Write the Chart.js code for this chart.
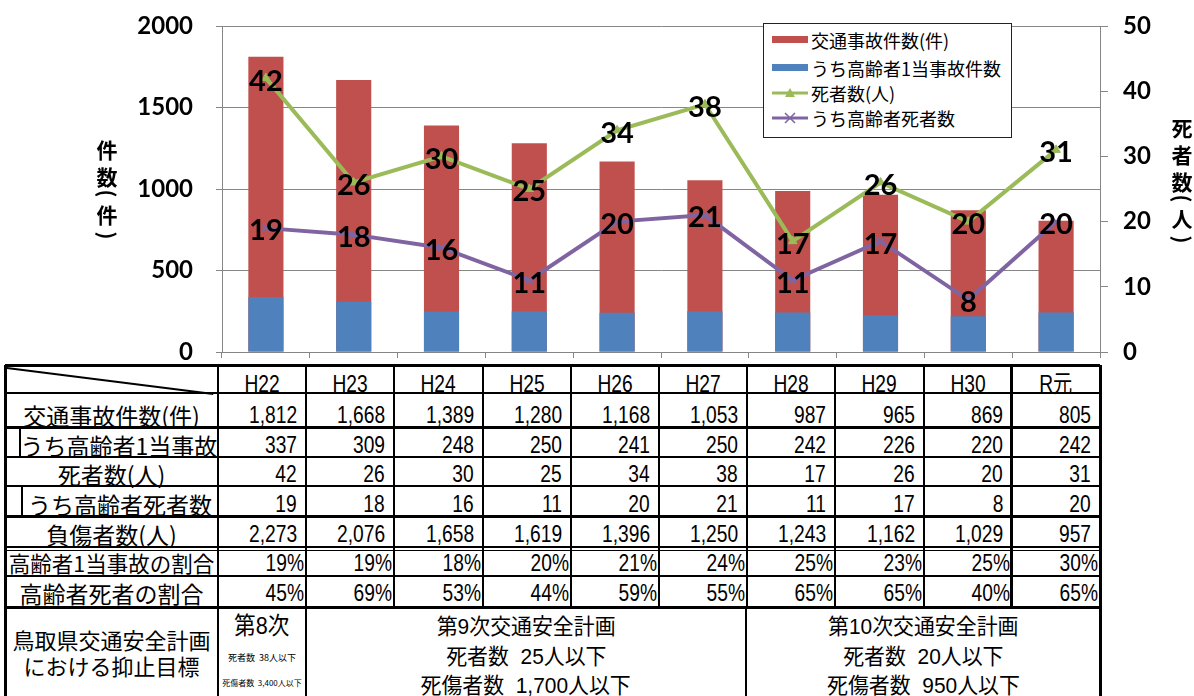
<!DOCTYPE html>
<html lang="ja">
<head>
<meta charset="utf-8">
<script src="https://cdn.jsdelivr.net/npm/chart.js@4"></script>
<style>
  html, body { margin:0; padding:0; background:#fff; width:1194px; height:696px; overflow:hidden; }
  #wrap { position:relative; width:1194px; height:696px; }
  #c { position:absolute; left:0; top:0; }
  .ln { position:absolute; background:#000; }
  .t { position:absolute; white-space:pre; line-height:1; color:#000; }
  .t span { display:inline-block; }
  .cjk { font-family:"Noto Sans CJK JP", sans-serif; }
  .num { font-family:"Liberation Sans", "Noto Sans CJK JP", sans-serif; }
  #legend { position:absolute; left:763px; top:23px; width:247px; height:113px; border:1px solid #222; background:#fff; }
  .li { position:absolute; left:8px; height:20px; display:flex; align-items:center; font-family:"Noto Sans CJK JP", sans-serif; font-size:18px; line-height:1; }
  .li svg { margin-right:3px; }
  .ax { position:absolute; font-family:"Noto Sans CJK JP", sans-serif; font-weight:700; font-size:21px; line-height:1; width:24px; text-align:center; }
</style>
</head>
<body>
<div id="wrap">
  <canvas id="c" width="1194" height="362"></canvas>
  <div id="legend"></div>
  <div id="table"></div>
</div>
<script>
// ---------------- data ----------------
const years = ['H22','H23','H24','H25','H26','H27','H28','H29','H30','R元'];
const accidents = [1812,1668,1389,1280,1168,1053,987,965,869,805];
const elderlyAccidents = [337,309,248,250,241,250,242,226,220,242];
const deaths = [42,26,30,25,34,38,17,26,20,31];
const elderlyDeaths = [19,18,16,11,20,21,11,17,8,20];
const injured = [2273,2076,1658,1619,1396,1250,1243,1162,1029,957];
const elderlyAccidentRate = ['19%','19%','18%','20%','21%','24%','25%','23%','25%','30%'];
const elderlyDeathRate = ['45%','69%','53%','44%','59%','55%','65%','65%','40%','65%'];
const leftTicks = [0,500,1000,1500,2000];
const rightTicks = [0,10,20,30,40,50];
const seriesNames = ['交通事故件数(件)','うち高齢者1当事故件数','死者数(人)','うち高齢者死者数'];
const rowLabels = ['交通事故件数(件)','うち高齢者1当事故','死者数(人)','うち高齢者死者数','負傷者数(人)','高齢者1当事故の割合','高齢者死者の割合'];
const planLabel = ['鳥取県交通安全計画','における抑止目標'];
const plan8 = ['第8次','死者数  38人以下','死傷者数  3,400人以下'];
const plan9 = ['第9次交通安全計画','死者数  25人以下','死傷者数  1,700人以下'];
const plan10 = ['第10次交通安全計画','死者数  20人以下','死傷者数  950人以下'];

const RED='#C0504D', BLUE='#4F81BD', GREEN='#9BBB59', PURPLE='#8064A2', GRID='#868686';

// ---------------- chart ----------------
const valueLabels = {
  id:'valueLabels',
  afterDatasetsDraw(chart){
    const ctx = chart.ctx;
    ctx.save();
    ctx.font = 'bold 29px Lato, "DejaVu Sans", sans-serif';
    ctx.fillStyle = '#000';
    ctx.textAlign = 'center';
    ctx.textBaseline = 'middle';
    chart.data.datasets.forEach((ds,i)=>{
      if (ds.type !== 'line') return;
      const meta = chart.getDatasetMeta(i);
      meta.data.forEach((pt,j)=>{ ctx.fillText(String(ds.data[j]), pt.x, pt.y+3); });
    });
    ctx.restore();
  }
};

const tickFont = {family:'Lato, "DejaVu Sans", sans-serif', weight:'bold', size:24};
new Chart(document.getElementById('c'), {
  data:{
    labels: years,
    datasets:[
      {type:'line', label:seriesNames[2], data:deaths, yAxisID:'y1', borderColor:GREEN, backgroundColor:GREEN,
       borderWidth:4, pointStyle:'triangle', pointRadius:5, pointBorderWidth:1, tension:0, order:2},
      {type:'line', label:seriesNames[3], data:elderlyDeaths, yAxisID:'y1', borderColor:PURPLE, backgroundColor:PURPLE,
       borderWidth:4, pointStyle:'crossRot', pointRadius:5, pointBorderWidth:2, tension:0, order:1},
      {type:'bar', label:seriesNames[1], data:elderlyAccidents, yAxisID:'y', backgroundColor:BLUE, order:3},
      {type:'bar', label:seriesNames[0], data:accidents, yAxisID:'y', backgroundColor:RED, order:4}
    ]
  },
  options:{
    responsive:false,
    animation:false,
    layout:{padding:{top:26, bottom:4, left:0, right:0}},
    datasets:{bar:{grouped:false, barPercentage:0.4, categoryPercentage:1, borderWidth:0}},
    plugins:{legend:{display:false}, tooltip:{enabled:false}},
    scales:{
      x:{offset:true, grid:{offset:true, drawOnChartArea:false, color:GRID, tickLength:6}, border:{color:GRID}, ticks:{display:false}},
      y:{position:'left', min:0, max:2000,
         afterBuildTicks(s){ s.ticks = leftTicks.map(v=>({value:v})); },
         ticks:{font:tickFont, color:'#000', padding:23, callback:v=>String(v)},
         grid:{color:GRID, tickLength:6}, border:{color:GRID},
         afterFit(s){ s.width = 222; s.paddingTop = 0; s.paddingBottom = 0; }},
      y1:{position:'right', min:0, max:50,
         afterBuildTicks(s){ s.ticks = rightTicks.map(v=>({value:v})); },
         ticks:{font:tickFont, color:'#000', padding:15, callback:v=>String(v)},
         grid:{drawOnChartArea:false, color:GRID, tickLength:8}, border:{color:GRID},
         afterFit(s){ s.width = 94; s.paddingTop = 0; s.paddingBottom = 0; }}
    }
  },
  plugins:[valueLabels]
});

// ---------------- legend ----------------
(function(){
  const lg = document.getElementById('legend');
  const ys = [6, 34, 59, 84];
  const sw = [
    `<svg width="36" height="10"><rect x="0" y="1" width="36" height="7" fill="${RED}"/></svg>`,
    `<svg width="36" height="10"><rect x="0" y="1" width="36" height="7" fill="${BLUE}"/></svg>`,
    `<svg width="36" height="12"><line x1="0" y1="6" x2="36" y2="6" stroke="${GREEN}" stroke-width="3"/><polygon points="18,1 23,10 13,10" fill="${GREEN}"/></svg>`,
    `<svg width="36" height="12"><line x1="0" y1="6" x2="36" y2="6" stroke="${PURPLE}" stroke-width="3"/><path d="M13 1 L23 11 M23 1 L13 11" stroke="${PURPLE}" stroke-width="1.5"/></svg>`
  ];
  seriesNames.forEach((n,i)=>{
    const d = document.createElement('div');
    d.className='li'; d.style.top = ys[i]+'px';
    d.innerHTML = sw[i] + '<span>'+n+'</span>';
    lg.appendChild(d);
  });
})();

// ---------------- axis titles ----------------
(function(){
  const wrap = document.getElementById('wrap');
  function col(x, items){
    items.forEach(([ch,y,rot])=>{
      const d = document.createElement('div');
      d.className='ax'; d.textContent = ch;
      d.style.left = (x-12)+'px'; d.style.top = (y-11)+'px';
      if (rot) d.style.transform = 'rotate(90deg)';
      wrap.appendChild(d);
    });
  }
  col(107, [['件',150],['数',177],['(',194,1],['件',215],[')',236,1]]);
  col(1182, [['死',128],['者',155],['数',182],['(',199,1],['人',219],[')',240,1]]);
})();

// ---------------- table ----------------
(function(){
  const tb = document.getElementById('table');
  const colX = [5, 218]; for (let i=1;i<=10;i++) colX.push(Math.round(218 + i*88.2));
  const rowY = [365, 393, 427, 457, 486, 516, 547, 576, 607, 700];
  function hl(x1,x2,y,w){ const d=document.createElement('div'); d.className='ln'; d.style.left=x1+'px'; d.style.width=(x2-x1)+'px'; d.style.top=(y-w/2)+'px'; d.style.height=w+'px'; tb.appendChild(d); }
  function vl(x,y1,y2,w){ const d=document.createElement('div'); d.className='ln'; d.style.left=(x-w/2)+'px'; d.style.width=w+'px'; d.style.top=y1+'px'; d.style.height=(y2-y1)+'px'; tb.appendChild(d); }
  function tx(x1,x2,yc,s,align,size,cls,pad,sx){
    const d=document.createElement('div'); d.className='t '+cls;
    const sp=document.createElement('span'); sp.textContent=s;
    if (sx) { sp.style.transform='scaleX('+sx+')'; sp.style.transformOrigin = align==='right'?'right center':(align==='left'?'left center':'center'); }
    d.appendChild(sp);
    d.style.left=x1+'px'; d.style.width=(x2-x1)+'px'; d.style.top=(yc-size/2)+'px';
    d.style.fontSize=size+'px'; d.style.height=size+'px'; d.style.textAlign=align;
    if (pad) { d.style.boxSizing='border-box'; d.style[align==='right'?'paddingRight':'paddingLeft']=pad+'px'; }
    tb.appendChild(d);
  }
  // horizontal lines
  const hw = [3,2,3,2,2,3,2,2,3];
  for (let r=0;r<9;r++) hl(5, 1100, rowY[r], hw[r]);
  hl(5,1100,rowY[6]+3,1);
  // vertical lines for data rows
  colX.forEach((x,i)=>{ const w = (i===0||i===colX.length-1)?3:2; vl(x, rowY[0], rowY[8], w); });
  vl(1011, rowY[0], rowY[8], 3);
  // footer verticals
  [5,218,306,746,1100].forEach((x,i)=>vl(x, rowY[8], 700, (i===0||i===4)?3:2));
  // indented label boxes
  vl(20, rowY[2], rowY[3], 2);
  vl(22, rowY[4], rowY[5], 2);
  // diagonal in header label
  const dg = document.createElement('div');
  const dx = 206, dy = 26, len = Math.hypot(dx,dy);
  dg.className='ln'; dg.style.left='7px'; dg.style.top='367px'; dg.style.width=len+'px'; dg.style.height='1.5px';
  dg.style.transformOrigin='0 0'; dg.style.transform='rotate('+Math.atan2(dy,dx)+'rad)';
  tb.appendChild(dg);

  const yc = [384, 415, 445, 474, 504, 534, 563, 593];
  // header
  years.forEach((y,i)=>tx(colX[i+1], colX[i+2], yc[0], y, 'center', 24, 'num', 0, 0.8));
  // labels
  const lx = [[5,218],[20,218],[5,218],[22,218],[5,218],[5,218],[5,218]];
  rowLabels.forEach((l,r)=>tx(lx[r][0], lx[r][1], yc[r+1], l, 'center', r===5?21.5:23, 'cjk', 0, 0));
  const fmt = v => v.toLocaleString('en-US');
  const rows = [accidents.map(fmt), elderlyAccidents.map(fmt), deaths.map(fmt), elderlyDeaths.map(fmt), injured.map(fmt), elderlyAccidentRate, elderlyDeathRate];
  rows.forEach((vals,r)=>{
    vals.forEach((v,i)=>tx(colX[i+1], colX[i+2], yc[r+1], v, 'right', 24, 'num', r>=5?2:9, 0.8));
  });
  // footer
  tx(5,218,639,planLabel[0],'center',22,'cjk',0,0);
  tx(5,218,665,planLabel[1],'center',22,'cjk',0,0);
  tx(218,306,626,plan8[0],'center',24,'num',0,0.9);
  tx(218,306,657,plan8[1],'center',9,'cjk',0,0);
  tx(218,306,683,plan8[2],'center',8,'cjk',0,0);
  [[306,746,plan9],[746,1100,plan10]].forEach(([a,b,p])=>{
    tx(a,b,627,p[0],'center',22,'num',0,0.95);
    tx(a,b,657,p[1],'center',22,'num',0,0.95);
    tx(a,b,686,p[2],'center',22,'num',0,0.95);
  });
})();
</script>
</body>
</html>
